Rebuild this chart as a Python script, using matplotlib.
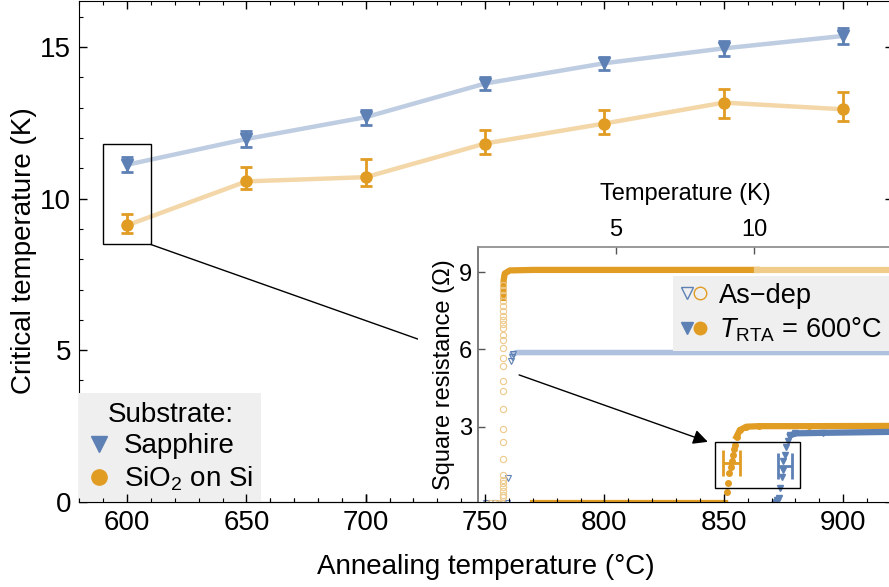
import matplotlib
matplotlib.use('Agg')
import matplotlib.pyplot as plt
from matplotlib.lines import Line2D
from matplotlib.patches import Rectangle, ConnectionPatch
from matplotlib.legend_handler import HandlerTuple

plt.rcParams['font.family'] = ['Liberation Sans', 'DejaVu Sans']
plt.rcParams['mathtext.fontset'] = 'custom'
plt.rcParams['mathtext.rm'] = 'Liberation Sans'
plt.rcParams['mathtext.it'] = 'Liberation Sans:italic'

BLUE = '#5E81B5'
ORANGE = '#E19C24'
BLUE_LINE = '#BECDE1'
ORANGE_LINE = '#F3D7A8'

# main panel: critical temperature vs annealing temperature
anneal_T = [600, 650, 700, 750, 800, 850, 900]
tc_sapphire = [11.12, 11.97, 12.69, 13.80, 14.47, 14.96, 15.37]
tc_sapphire_err = [0.25, 0.26, 0.25, 0.20, 0.22, 0.24, 0.26]
tc_sio2 = [9.12, 10.57, 10.71, 11.82, 12.48, 13.17, 12.95]
tc_sio2_err_lo = [0.24, 0.24, 0.28, 0.33, 0.33, 0.50, 0.39]
tc_sio2_err_hi = [0.38, 0.48, 0.60, 0.46, 0.43, 0.46, 0.57]

# inset: R(T) curves
asdep_sio2_T = [0.45, 0.60, 0.75, 0.86, 0.90, 0.91, 0.91, 0.91, 0.92, 0.92, 0.92, 0.92,
                0.92, 0.92, 0.92, 0.92, 0.92, 0.92, 0.92, 0.92, 0.92, 0.92, 0.92, 0.92,
                0.92, 0.92, 0.92, 0.92, 0.92, 0.92, 0.92, 0.92]
asdep_sio2_R = [0.03, 0.03, 0.03, 0.05, 0.27, 0.35, 0.50, 0.65, 0.80, 0.93, 1.13, 1.75,
                2.42, 2.91, 3.69, 4.39, 4.76, 5.34, 5.66, 6.05, 6.37, 6.57, 6.82, 7.00,
                7.15, 7.30, 7.50, 7.70, 7.90, 8.10, 8.30, 8.50]
asdep_sio2_top_T = [0.92, 0.93, 0.97, 1.15, 2.0, 6.0, 10.1]
asdep_sio2_top_R = [8.0, 8.7, 8.95, 9.07, 9.09, 9.09, 9.09]
asdep_sio2_tail_T = [10.1, 15.1]
asdep_sio2_tail_R = [9.08, 9.08]

asdep_sapph_T = [0.30, 0.60, 0.90, 1.05, 1.10, 1.20, 1.22, 1.26]
asdep_sapph_R = [0.03, 0.03, 0.03, 0.05, 1.00, 5.55, 5.72, 5.82]
asdep_sapph_top_T = [1.26, 1.40, 15.1]
asdep_sapph_top_R = [5.82, 5.88, 5.88]

rta_sio2_T = [2.0, 8.95, 9.01, 9.07, 9.11, 9.16, 9.19, 9.23, 9.28, 9.31, 9.37, 9.49,
              9.73, 10.2, 12.0, 15.1]
rta_sio2_R = [0.03, 0.03, 0.47, 0.80, 1.19, 1.45, 1.67, 1.90, 2.12, 2.29, 2.61, 2.87,
              3.00, 3.02, 3.02, 3.03]

rta_sapph_T = [10.76, 10.84, 10.90, 10.96, 11.01, 11.04, 11.07, 11.11, 11.15, 11.22,
               11.32, 11.50, 12.5, 15.1]
rta_sapph_R = [0.05, 0.15, 0.22, 0.60, 1.05, 1.30, 1.65, 1.90, 2.20, 2.45,
               2.66, 2.74, 2.76, 2.80]

W, H = 889, 587
fig = plt.figure(figsize=(W / 100, H / 100), dpi=100)

# ---------- main axes ----------
ax = fig.add_axes([79.3 / W, 85.3 / H, (893 - 79.3) / W, (586.5 - 85.3) / H])
ax.set_xlim(580, 920.9)
ax.set_ylim(0, 16.54)

ax.plot(anneal_T, tc_sapphire, color=BLUE_LINE, lw=3.2, zorder=2)
ax.plot(anneal_T, tc_sio2, color=ORANGE_LINE, lw=3.2, zorder=2)
ax.errorbar(anneal_T, tc_sapphire, yerr=tc_sapphire_err, fmt='v', color=BLUE, ms=9,
            capsize=4, elinewidth=2, capthick=2, zorder=3)
ax.errorbar(anneal_T, tc_sio2, yerr=[tc_sio2_err_lo, tc_sio2_err_hi], fmt='o', color=ORANGE,
            ms=8, capsize=4, elinewidth=2, capthick=2, zorder=3)

ax.set_xticks([600, 650, 700, 750, 800, 850, 900])
ax.set_xticks(range(580, 921, 10), minor=True)
ax.set_yticks([0, 5, 10, 15])
ax.set_yticks(range(0, 17), minor=True)
ax.tick_params(which='both', direction='in', top=True, right=True, labelsize=20, pad=6)
ax.tick_params(which='major', length=6, width=1)
ax.tick_params(which='minor', length=3, width=0.8)
ax.set_xlabel('Annealing temperature (°C)', fontsize=20, labelpad=13)
ax.set_ylabel('Critical temperature (K)', fontsize=20, labelpad=2)

ax.add_patch(Rectangle((589.8, 8.49), 20.1, 3.3, fill=False, ec='black', lw=1, zorder=4))

handles = [Line2D([], [], marker='v', ls='none', color=BLUE, ms=12, label='Sapphire'),
           Line2D([], [], marker='o', ls='none', color=ORANGE, ms=11, label='SiO$_2$ on Si')]
leg = ax.legend(handles=handles, title='Substrate:', loc='lower left', bbox_to_anchor=(0, 0),
                fontsize=20, title_fontsize=20, frameon=True, fancybox=False, framealpha=1,
                facecolor='#EFEFEF', edgecolor='none', borderaxespad=0, handlelength=0.8,
                handletextpad=0.5, borderpad=0.3, labelspacing=0.2)
leg.get_frame().set_linewidth(0)

# ---------- inset ----------
axin = fig.add_axes([478 / W, 85.3 / H, (893 - 478) / W, (501.7 - 247) / H], zorder=2)
axin.set_facecolor('white')
axin.set_xlim(0, 15.04)
axin.set_ylim(0.085, 9.98)

# as-deposited (open markers)
axin.plot(asdep_sapph_top_T, asdep_sapph_top_R, color='#AFC1DE', lw=4, zorder=2)
axin.plot(asdep_sapph_T, asdep_sapph_R, 'v', mfc='none', mec=BLUE, mew=0.8, ms=5, zorder=3)
axin.plot(asdep_sio2_top_T, asdep_sio2_top_R, color=ORANGE, lw=4.5, zorder=3)
axin.plot(asdep_sio2_tail_T, asdep_sio2_tail_R, color='#F0CC8A', lw=4.5, zorder=3)
axin.plot(asdep_sio2_T, asdep_sio2_R, 'o', mfc='none', mec='#EEC98A', mew=0.8, ms=4.5, zorder=3)

# annealed at 600 C (filled markers)
axin.plot(rta_sio2_T[:2], rta_sio2_R[:2], color=ORANGE, lw=4.5, zorder=4)
axin.plot(rta_sio2_T[10:], rta_sio2_R[10:], color=ORANGE, lw=4.5, zorder=4)
axin.plot(rta_sio2_T, rta_sio2_R, 'o', color=ORANGE, ms=4, zorder=4)
axin.plot(rta_sapph_T[:2], rta_sapph_R[:2], color=BLUE, lw=4.5, zorder=4)
axin.plot(rta_sapph_T[10:], rta_sapph_R[10:], color=BLUE, lw=4.5, zorder=4)
axin.plot(rta_sapph_T, rta_sapph_R, 'v', color=BLUE, ms=5, zorder=4)

# Tc markers with widths (same values as the main panel at 600 C)
axin.errorbar([tc_sio2[0]], [1.59], xerr=[[tc_sio2_err_lo[0]], [tc_sio2_err_hi[0]]], fmt='none',
              ecolor=ORANGE, elinewidth=2, capsize=9.5, capthick=2, zorder=5)
axin.errorbar([tc_sapphire[0]], [1.47], xerr=[tc_sapphire_err[0]], fmt='none',
              ecolor=BLUE, elinewidth=2, capsize=9.5, capthick=2, zorder=5)
axin.add_patch(Rectangle((8.59, 0.62), 3.08, 1.79, fill=False, ec='black', lw=1, zorder=6))
axin.annotate('', xy=(8.33, 2.41), xytext=(1.49, 5.01),
              arrowprops=dict(arrowstyle='-|>', color='black', lw=1, mutation_scale=22,
                              shrinkA=0, shrinkB=0), zorder=6)

axin.xaxis.tick_top()
axin.xaxis.set_label_position('top')
axin.set_xticks([5, 10])
axin.set_yticks([3, 6, 9])
axin.tick_params(direction='in', labelsize=17, length=5, width=1, pad=4, color='#555555')
axin.set_xlabel('Temperature (K)', fontsize=17, labelpad=14)
axin.set_ylabel('Square resistance (Ω)', fontsize=17, labelpad=3)
axin.spines['bottom'].set_visible(False)
axin.spines['right'].set_visible(False)
axin.spines['top'].set_color('#888888')
axin.spines['left'].set_color('#666666')
axin.spines['top'].set_linewidth(1.2)
axin.spines['left'].set_linewidth(1.2)

h_asdep = (Line2D([], [], marker='v', ls='none', mfc='none', mec=BLUE, ms=9),
           Line2D([], [], marker='o', ls='none', mfc='none', mec=ORANGE, ms=9))
h_rta = (Line2D([], [], marker='v', ls='none', color=BLUE, ms=9),
         Line2D([], [], marker='o', ls='none', color=ORANGE, ms=9))
leg2 = axin.legend([h_asdep, h_rta], ['As\u2212dep', '$T_{\\mathrm{RTA}}$ = 600°C'],
                   handler_map={tuple: HandlerTuple(ndivide=None, pad=0.0)},
                   loc='upper left', bbox_to_anchor=(673 / W, 1 - 276 / H),
                   bbox_transform=fig.transFigure, fontsize=19.5, frameon=True, fancybox=False,
                   framealpha=1, facecolor='#EFEFEF', edgecolor='none', borderaxespad=0,
                   handlelength=1.0, handletextpad=0.45, borderpad=0.25, labelspacing=0.25)
leg2.get_frame().set_linewidth(0)

# connector from the boxed points to the inset, hidden behind the inset area
con = ConnectionPatch(xyA=(609.9, 8.49), coordsA=ax.transData, xyB=(1.49, 5.01),
                      coordsB=axin.transData, color='black', lw=1, zorder=1)
fig.add_artist(con)
fig.add_artist(Rectangle((418 / W, 86 / H), 60 / W, 251 / H, transform=fig.transFigure,
                         facecolor='white', edgecolor='none', zorder=1.5))

# bottom frame ticks of the main axes drawn over the inset
ov = fig.add_axes(ax.get_position(), zorder=3, facecolor='none')
ov.set_xlim(ax.get_xlim())
ov.set_xticks(ax.get_xticks())
ov.set_xticks(range(580, 921, 10), minor=True)
ov.set_yticks([])
for s in ['left', 'right', 'top']:
    ov.spines[s].set_visible(False)
ov.tick_params(which='both', direction='in', labelbottom=False)
ov.tick_params(which='major', length=6, width=1)
ov.tick_params(which='minor', length=3, width=0.8)

fig.savefig('out.png', dpi=100)
